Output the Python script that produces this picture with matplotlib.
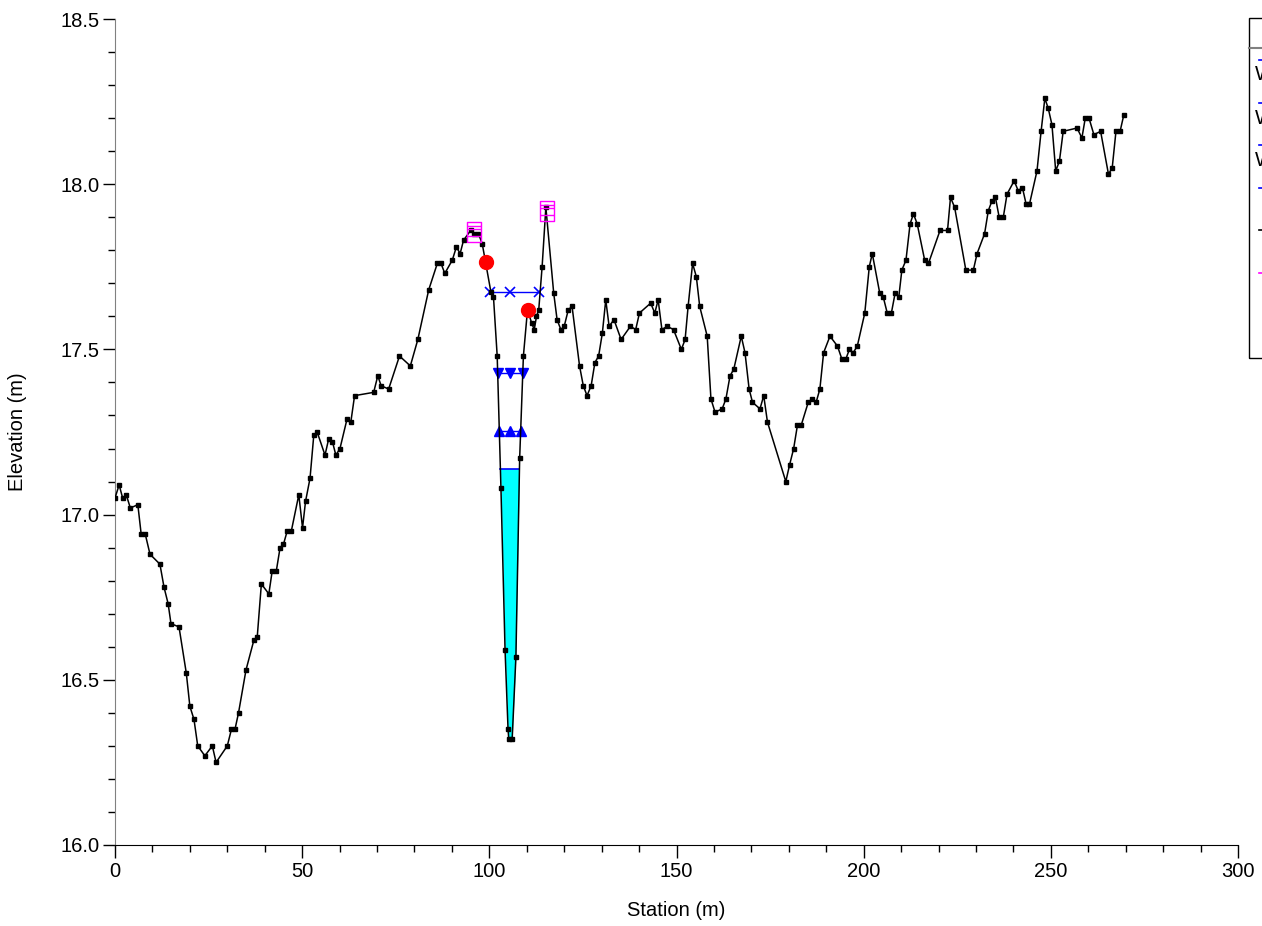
import numpy as np
import matplotlib
matplotlib.use("Agg")
import matplotlib.pyplot as plt
from matplotlib.path import Path
from matplotlib.patches import Rectangle
from matplotlib.lines import Line2D

plt.rcParams['font.family'] = ['Liberation Sans', 'DejaVu Sans']

# ---------------- data ----------------
station = [0.0, 1.1, 2.05, 3.0, 4.1, 6.1, 7.0, 8.1, 9.35, 12.0, 13.1, 14.2, 14.95, 17.1,
           19.05, 20.0, 21.1, 22.1, 24.0, 26.0, 27.0, 30.0, 31.1, 32.05, 33.0, 35.0, 37.1,
           38.0, 39.1, 41.1, 42.0, 43.1, 44.1, 45.0, 46.0, 47.1, 49.1, 50.1, 50.9, 52.1,
           53.1, 54.0, 56.1, 57.1, 58.1, 59.0, 60.1, 62.0, 63.0, 64.0, 69.1, 70.2, 71.1,
           73.1, 76.0, 78.9, 80.9, 83.8, 86.1, 87.1, 88.1, 90.1, 91.2, 92.2, 93.1, 95.0,
           95.9, 97.1, 98.1, 100.4, 101.1, 102.1, 103.1, 104.2, 105.0, 105.2, 106.1, 107.1,
           108.1, 109.1, 110.2, 111.3, 112.0, 112.6, 113.2, 114.1, 115.1, 117.2, 118.1,
           119.1, 120.0, 121.1, 122.1, 124.1, 125.1, 126.1, 127.2, 128.2, 129.2, 130.2,
           131.1, 132.0, 133.3, 135.2, 137.7, 139.1, 140.1, 143.1, 144.2, 145.1, 146.1,
           147.5, 149.2, 151.3, 152.3, 153.1, 154.3, 155.3, 156.2, 158.2, 159.2, 160.3,
           162.2, 163.2, 164.3, 165.3, 167.3, 168.3, 169.4, 170.3, 172.3, 173.3, 174.3,
           179.2, 180.2, 181.3, 182.3, 183.3, 185.2, 186.2, 187.3, 188.3, 189.3, 191.0,
           193.0, 194.2, 195.2, 196.2, 197.2, 198.3, 200.3, 201.5, 202.3, 204.3, 205.2,
           206.3, 207.4, 208.4, 209.4, 210.2, 211.3, 212.4, 213.3, 214.3, 216.3, 217.3,
           220.4, 222.4, 223.2, 224.3, 227.3, 229.3, 230.3, 232.3, 233.3, 234.3, 235.2,
           236.2, 237.3, 238.3, 240.2, 241.3, 242.4, 243.4, 244.3, 246.3, 247.4, 248.4,
           249.3, 250.3, 251.3, 252.3, 253.3, 257.0, 258.3, 259.2, 260.2, 261.5, 263.3,
           265.4, 266.4, 267.4, 268.5, 269.5]
elevation = [17.05, 17.09, 17.05, 17.06, 17.02, 17.03, 16.94, 16.94, 16.88, 16.85, 16.78,
             16.73, 16.67, 16.66, 16.52, 16.42, 16.38, 16.30, 16.27, 16.30, 16.25, 16.30,
             16.35, 16.35, 16.40, 16.53, 16.62, 16.63, 16.79, 16.76, 16.83, 16.83, 16.90,
             16.91, 16.95, 16.95, 17.06, 16.96, 17.04, 17.11, 17.24, 17.25, 17.18, 17.23,
             17.22, 17.18, 17.20, 17.29, 17.28, 17.36, 17.37, 17.42, 17.39, 17.38, 17.48,
             17.45, 17.53, 17.68, 17.76, 17.76, 17.73, 17.77, 17.81, 17.79, 17.83, 17.86,
             17.85, 17.85, 17.82, 17.675, 17.66, 17.48, 17.08, 16.59, 16.35, 16.32, 16.32,
             16.57, 17.17, 17.48, 17.62, 17.58, 17.56, 17.60, 17.62, 17.75, 17.93, 17.67,
             17.59, 17.56, 17.57, 17.62, 17.63, 17.45, 17.39, 17.36, 17.39, 17.46, 17.48,
             17.55, 17.65, 17.57, 17.59, 17.53, 17.57, 17.56, 17.61, 17.64, 17.61, 17.65,
             17.56, 17.57, 17.56, 17.50, 17.53, 17.63, 17.76, 17.72, 17.63, 17.54, 17.35,
             17.31, 17.32, 17.35, 17.42, 17.44, 17.54, 17.49, 17.38, 17.34, 17.32, 17.36,
             17.28, 17.10, 17.15, 17.20, 17.27, 17.27, 17.34, 17.35, 17.34, 17.38, 17.49,
             17.54, 17.51, 17.47, 17.47, 17.50, 17.49, 17.51, 17.61, 17.75, 17.79, 17.67,
             17.66, 17.61, 17.61, 17.67, 17.66, 17.74, 17.77, 17.88, 17.91, 17.88, 17.77,
             17.76, 17.86, 17.86, 17.96, 17.93, 17.74, 17.74, 17.79, 17.85, 17.92, 17.95,
             17.96, 17.90, 17.90, 17.97, 18.01, 17.98, 17.99, 17.94, 17.94, 18.04, 18.16,
             18.26, 18.23, 18.18, 18.04, 18.07, 18.16, 18.17, 18.14, 18.20, 18.20, 18.15,
             18.16, 18.03, 18.05, 18.16, 18.16, 18.21]

ws_main = 17.139                       # cyan water surface
ws_x_sta = [100.3, 105.5, 113.4]       # blue x markers
ws_x_elev = 17.675
ws_down_sta = [102.4, 105.5, 108.9]    # blue down triangles
ws_down_elev = 17.43
ws_up_sta = [102.7, 105.5, 108.4]      # blue up triangles
ws_up_elev = 17.253
bank_sta = [99.1, 110.2]
bank_elev = [17.764, 17.62]
levee_sta = [95.8, 115.3]
levee_elev = [17.855, 17.92]

xticks = [0, 50, 100, 150, 200, 250, 300]
yticks = [16.0, 16.5, 17.0, 17.5, 18.0, 18.5]
ytick_labels = ["16.0", "16.5", "17.0", "17.5", "18.0", "18.5"]

# ---------------- figure ----------------
W, H = 1262, 926
fig = plt.figure(figsize=(W / 100, H / 100), dpi=100)
ax = fig.add_axes([115 / W, 1 - 845 / H, (1238 - 115) / W, (845 - 19) / H])

st = np.array(station)
el = np.array(elevation)

# water fill in main channel
thal = int(np.argmin(np.where((st > 98) & (st < 112), el, 99)))
i = thal
while el[i] < ws_main:
    i -= 1
xl = st[i] + (ws_main - el[i]) * (st[i + 1] - st[i]) / (el[i + 1] - el[i])
j = thal
while el[j] < ws_main:
    j += 1
xr = st[j - 1] + (ws_main - el[j - 1]) * (st[j] - st[j - 1]) / (el[j] - el[j - 1])
fx = np.concatenate([[xl], st[i + 1:j], [xr]])
fy = np.concatenate([[ws_main], el[i + 1:j], [ws_main]])
ax.fill_between(fx, fy, ws_main, color='#00FFFF', lw=0, zorder=1)
ax.plot([xl, xr], [ws_main, ws_main], color='#0000FF', lw=1.2, zorder=2)

# other water surfaces
ax.plot(ws_x_sta, [ws_x_elev] * 3, color='#0000FF', lw=1, marker='x', ms=7, mew=1.2, zorder=3)
ax.plot(ws_down_sta, [ws_down_elev] * 3, color='#0000FF', lw=1, marker='v', ms=7, zorder=3)
ax.plot(ws_up_sta, [ws_up_elev] * 3, color='#0000FF', lw=1, marker='^', ms=7, zorder=3)

# ground
ax.plot(st, el, color='black', lw=1.1, marker='s', ms=2.6, zorder=4)

# bank stations
ax.plot(bank_sta, bank_elev, ls='none', marker='o', ms=10, color='#FF0000', mec='#FF0000', zorder=5)

# levee-like magenta markers (square with inner bars)
verts = [(-0.75, -1), (0.75, -1), (0.75, 1), (-0.75, 1), (-0.75, -1),
         (-0.75, -0.45), (0.75, -0.45), (-0.75, 0.3), (0.75, 0.3), (-0.75, 0.6), (0.75, 0.6)]
codes = [Path.MOVETO, Path.LINETO, Path.LINETO, Path.LINETO, Path.CLOSEPOLY,
         Path.MOVETO, Path.LINETO, Path.MOVETO, Path.LINETO, Path.MOVETO, Path.LINETO]
lev_marker = Path(verts, codes)
ax.plot(levee_sta, levee_elev, ls='none', marker=lev_marker, ms=14, mfc='none',
        mec='#FF00FF', mew=1, zorder=6)

# axes styling
ax.set_xlim(0, 300)
ax.set_ylim(16.0, 18.5)
ax.set_xticks(xticks)
ax.set_xticks(np.arange(0, 301, 10), minor=True)
ax.set_yticks(yticks)
ax.set_yticklabels(ytick_labels)
ax.set_yticks(np.arange(16.0, 18.51, 0.1), minor=True)
for s in ['top', 'right']:
    ax.spines[s].set_visible(False)
ax.spines['left'].set_color('#808080')
ax.spines['bottom'].set_color('black')
ax.tick_params(which='major', length=9, width=1, labelsize=14.5, pad=3, color='black')
ax.tick_params(which='minor', length=5, width=1, color='black')
ax.tick_params(axis='y', which='major', pad=2)
ax.set_xlabel('Station (m)', fontsize=14.5)
ax.set_ylabel('Elevation (m)', fontsize=14.5)
ax.xaxis.set_label_coords(0.5, -0.068)
ax.yaxis.set_label_coords(-0.078, 0.5)

# legend (clipped at the right edge of the figure)
def fx_(px):
    return px / W

def fy_(py):
    return 1 - py / H

fig.patches.append(Rectangle((fx_(1249), fy_(358)), fx_(80), (358 - 18) / H,
                             transform=fig.transFigure, fill=False, ec='black', lw=1))
fig.lines.append(Line2D([fx_(1249), fx_(1330)], [fy_(48), fy_(48)], transform=fig.transFigure,
                        color='#808080', lw=1.5))
leg_colors = ['#0000FF', '#0000FF', '#0000FF', '#0000FF', 'black', '#FF00FF']
leg_y = [60, 103, 145, 188, 230, 273]
leg_labels = ['WS PF 3', 'WS PF 2', 'WS PF 1', '', '', '']
for c, y, lab in zip(leg_colors, leg_y, leg_labels):
    fig.lines.append(Line2D([fx_(1259), fx_(1275)], [fy_(y), fy_(y)], transform=fig.transFigure,
                            color=c, lw=1.2))
    if lab:
        fig.text(fx_(1255), fy_(y + 15), lab, fontsize=14.5, va='center', ha='left')

fig.savefig('out.png', dpi=100)
